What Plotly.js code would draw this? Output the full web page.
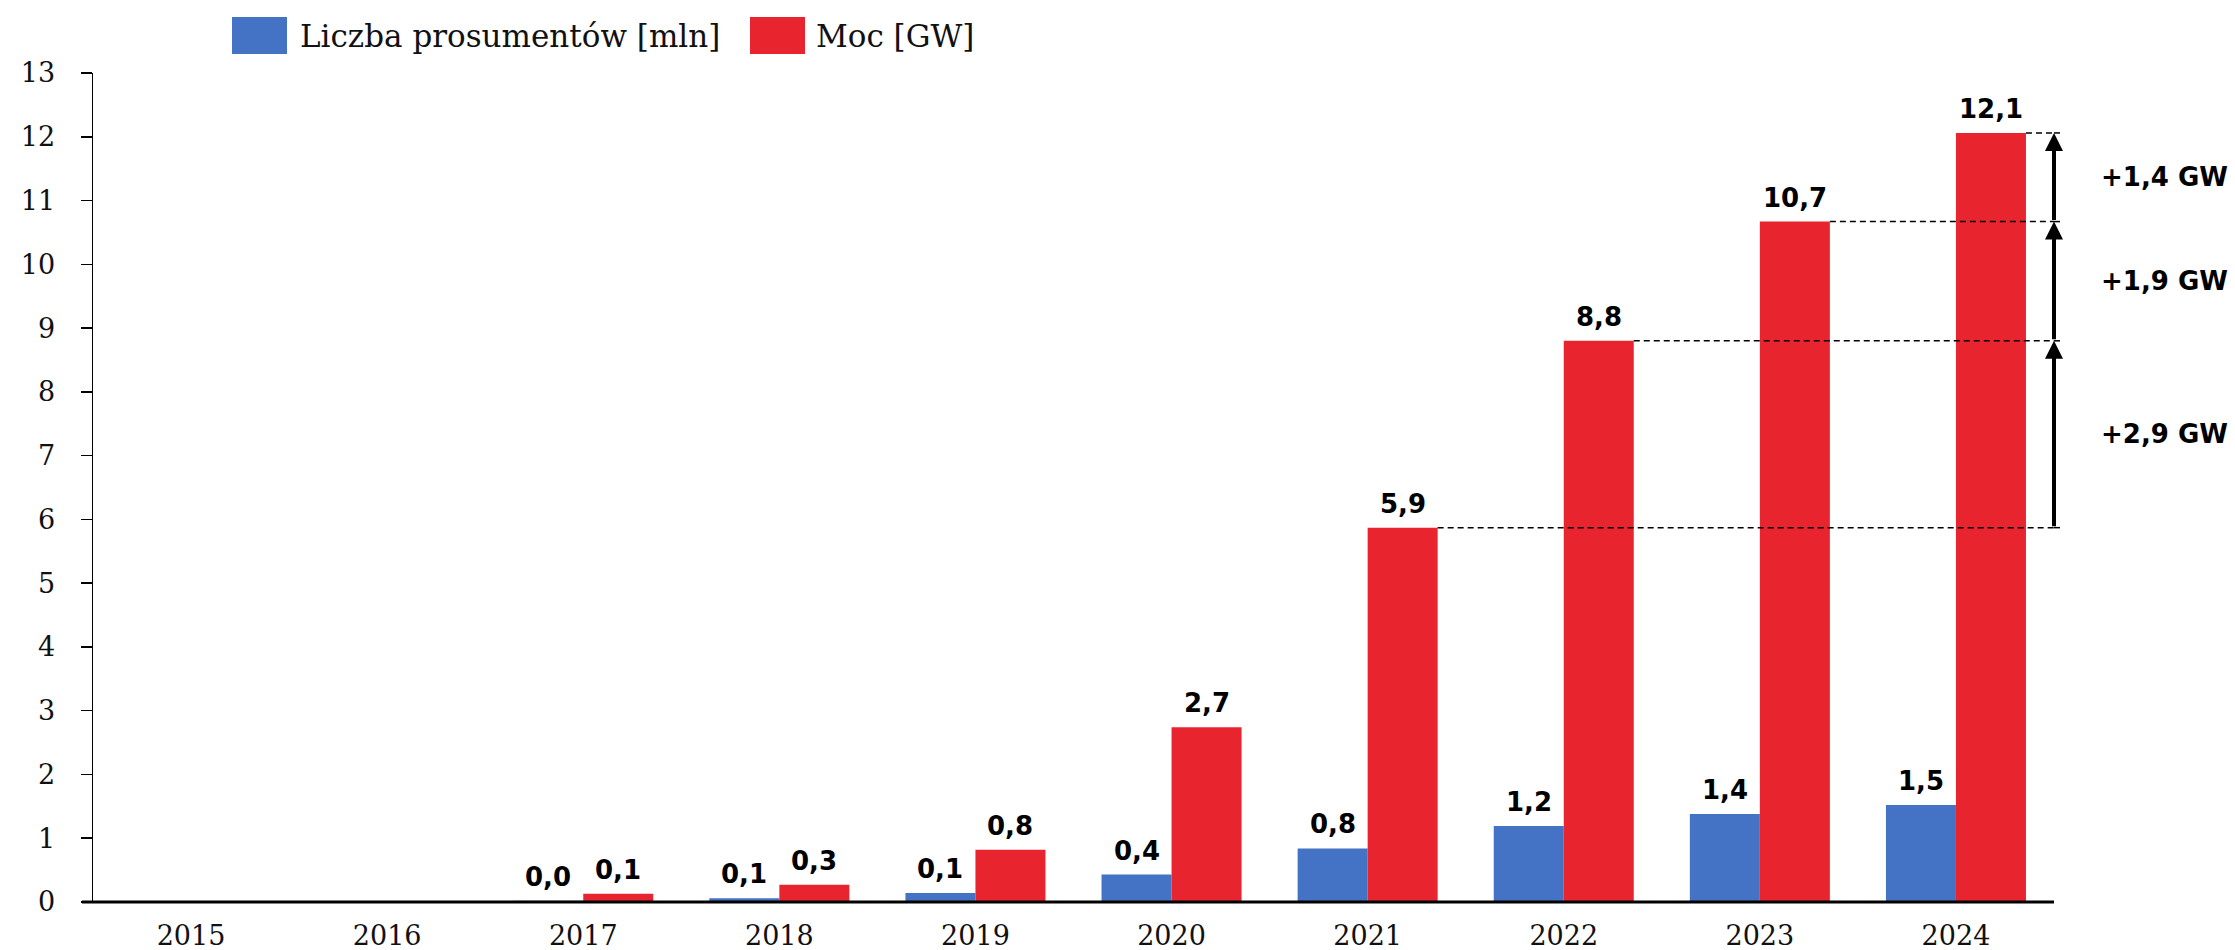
<!DOCTYPE html>
<html>
<head>
<meta charset="utf-8">
<script src="https://cdn.plot.ly/plotly-3.0.1.min.js"></script>
<style>html,body{margin:0;padding:0;background:#fff;}#chart{width:2235px;height:950px;}</style>
</head>
<body>
<div id="chart"></div>
<script>
// ---- data ----
const categories = ['2015', '2016', '2017', '2018', '2019', '2020', '2021', '2022', '2023', '2024'];
const prosumers = [null, null, 0.02, 0.06, 0.14, 0.43, 0.84, 1.19, 1.38, 1.52];   // mln
const capacity  = [null, null, 0.13, 0.27, 0.82, 2.74, 5.87, 8.80, 10.67, 12.06]; // GW
const seriesNames = ['Liczba prosumentów [mln]', 'Moc [GW]'];
const yTickValues = [0, 1, 2, 3, 4, 5, 6, 7, 8, 9, 10, 11, 12, 13];
const stepStartYears = ['2021', '2022', '2023'];
const stepUnit = ' GW';

// ---- layout helpers ----
const W = 2235, H = 950;
const M = {l: 93, r: 181, t: 73, b: 48};
const PW = W - M.l - M.r, PH = H - M.t - M.b;
const px2x = px => (px - M.l) / PW;
const px2y = py => (H - M.b - py) / PH;
const BLUE = '#4472C4', RED = '#E8242F';
const BARGAP = 0.286;
const half = (1 - BARGAP) / 2;
const fmt = v => v.toFixed(1).replace('.', ',');
const serif = 'DejaVu Serif, serif';
const sans = 'DejaVu Sans, sans-serif';

const labelFont = {family: sans, size: 26, color: '#000', weight: 'bold'};

const series = [prosumers, capacity];
const colors = [BLUE, RED];
const traces = series.map((vals, s) => ({
  type: 'bar', name: seriesNames[s], x: categories, y: vals,
  marker: {color: colors[s], line: {width: 0}},
  showlegend: false, hoverinfo: 'skip'
}));

const shapes = [];
const annotations = [];

// value labels above bars (bar centre = category index -/+ half bar width)
series.forEach((vals, s) => {
  vals.forEach((v, j) => {
    if (v === null) return;
    annotations.push({xref: 'x', yref: 'y', x: j + (s === 0 ? -1 : 1) * half / 2, y: v,
      yshift: 7, xanchor: 'center', yanchor: 'bottom', showarrow: false,
      text: fmt(v), font: labelFont});
  });
});

// custom legend
const legendItems = [
  {color: BLUE, name: seriesNames[0], box: [232, 287], text: 298},
  {color: RED, name: seriesNames[1], box: [750, 805], text: 814}
];
legendItems.forEach(it => {
  shapes.push({type: 'rect', xref: 'paper', yref: 'paper',
    x0: px2x(it.box[0]), x1: px2x(it.box[1]), y0: px2y(54), y1: px2y(17),
    fillcolor: it.color, line: {width: 0}, layer: 'above'});
  annotations.push({xref: 'paper', yref: 'paper', x: px2x(it.text), y: px2y(36),
    xanchor: 'left', yanchor: 'middle', text: it.name, showarrow: false,
    font: {family: serif, size: 31, color: '#111'}});
});

// extended x axis baseline
shapes.push({type: 'line', xref: 'paper', yref: 'paper', x0: px2x(82), x1: 1, y0: 0, y1: 0,
  line: {color: '#000', width: 3}, layer: 'above'});

// dashed reference lines and step arrows
const lastIdx = categories.length - 1;
const xEnd = lastIdx + 0.5;
const dash = {color: '#000', width: 1.5, dash: '6px,4px'};
const refIdx = stepStartYears.map(y => categories.indexOf(y)).concat([lastIdx]);
refIdx.forEach(i => {
  shapes.push({type: 'line', xref: 'x', yref: 'y', x0: i + half, x1: xEnd,
    y0: capacity[i], y1: capacity[i], line: dash, layer: 'above'});
  shapes.push({type: 'line', xref: 'paper', yref: 'y', x0: 1, x1: px2x(2061),
    y0: capacity[i], y1: capacity[i], line: dash, layer: 'above'});
});
stepStartYears.forEach(yr => {
  const i = categories.indexOf(yr);
  const a = capacity[i], b = capacity[i + 1];
  annotations.push({xref: 'x', yref: 'y', axref: 'x', ayref: 'y',
    x: xEnd, y: b, ax: xEnd, ay: a, text: '', showarrow: true,
    arrowhead: 2, arrowwidth: 4, arrowsize: 0.9, arrowcolor: '#000', standoff: 0, startstandoff: 0});
  annotations.push({xref: 'paper', yref: 'y', x: px2x(2099), y: (a + b) / 2,
    xanchor: 'left', yanchor: 'middle', showarrow: false,
    text: '+' + fmt(b - a) + stepUnit,
    font: {family: sans, size: 26, color: '#000', weight: 'bold'}});
});

const layout = {
  width: W, height: H,
  margin: M,
  paper_bgcolor: '#fff', plot_bgcolor: '#fff',
  separators: ', ',
  barmode: 'group', bargap: BARGAP, bargroupgap: 0,
  showlegend: false,
  hovermode: false,
  xaxis: {type: 'category', range: [-0.5, xEnd], showline: false, showgrid: false, zeroline: false,
    ticks: '', ticklabelstandoff: 15,
    tickfont: {family: serif, size: 27, color: '#111'}},
  yaxis: {range: [0, 13], tickvals: yTickValues, showline: true, linecolor: '#000', linewidth: 1.5,
    ticks: 'outside', ticklen: 11, tickwidth: 1.5, tickcolor: '#000',
    showgrid: false, zeroline: false, ticklabelstandoff: 20,
    tickfont: {family: serif, size: 27, color: '#111'}},
  shapes: shapes,
  annotations: annotations
};

Plotly.newPlot('chart', traces, layout, {staticPlot: true, displayModeBar: false});
</script>
</body>
</html>
